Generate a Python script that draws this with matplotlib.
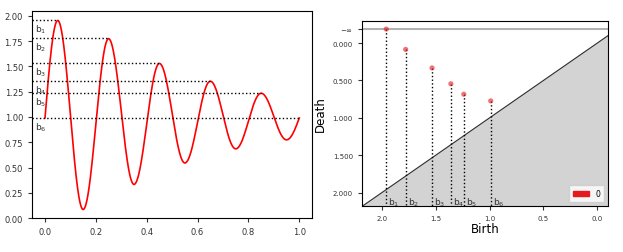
"""
Damped oscillation (left) and its superlevel-set persistence diagram (right).
Output: out.png
"""

import numpy as np
import matplotlib
matplotlib.use("Agg")
import matplotlib.pyplot as plt
import matplotlib.patches as mpatches

# ── Values ────────────────────────────────────────────────────────────────────
# curve extrema (start, peak, trough, peak, ..., end)
curve_x = [0.0, 0.05, 0.15, 0.25, 0.35, 0.45, 0.55, 0.65, 0.75, 0.85, 0.95, 1.0]
curve_y = [0.99, 1.955, 0.085, 1.775, 0.333, 1.53, 0.545, 1.354, 0.685, 1.235, 0.774, 0.99]

# persistence pairs (birth = local max, death = merging min); b1 never dies
births = [1.96, 1.78, 1.535, 1.36, 1.24, 0.99]
deaths = [np.inf, 0.085, 0.333, 0.545, 0.685, 0.774]
bar_x_end = [0.05, 0.25, 0.45, 0.65, 0.85, 1.0]   # where each dotted level meets the curve
labels = [f"b$_{i}$" for i in range(1, 7)]

red = "#e41a1c"
inf_pos = -0.187

fig = plt.figure(figsize=(6.23, 2.53), dpi=100)
ax1 = fig.add_axes([0.0514, 0.133, 0.4494, 0.818])
ax2 = fig.add_axes([0.581, 0.182, 0.395, 0.731])

# ── Left: the signal ──────────────────────────────────────────────────────────
xs, ys = [], []
n = len(curve_x)
for i in range(n - 1):
    x0, x1 = curve_x[i], curve_x[i + 1]
    y0, y1 = curve_y[i], curve_y[i + 1]
    t = np.linspace(0, 1, 60)
    if i == 0:                      # starts mid-swing, rising into first peak
        s = np.sin(np.pi / 2 * t)
    elif i == n - 2:                # ends mid-swing
        s = 1 - np.cos(np.pi / 2 * t)
    else:
        s = (1 - np.cos(np.pi * t)) / 2
    xs.append(x0 + (x1 - x0) * t)
    ys.append(y0 + (y1 - y0) * s)
ax1.plot(np.concatenate(xs), np.concatenate(ys), color="red", lw=1.2)

ax1.set_xlim(-0.051, 1.05)
ax1.set_ylim(-0.003, 2.045)
for b, xe, lab in zip(births, bar_x_end, labels):
    ax1.plot([-0.051, xe], [b, b], color="k", ls=":", lw=1)
    ax1.text(-0.041, b - 0.025, lab, ha="left", va="top", fontsize=6.5, color="#333")
ax1.set_yticks([0, 0.25, 0.5, 0.75, 1.0, 1.25, 1.5, 1.75, 2.0])
ax1.set_yticklabels([f"{v:.2f}" for v in ax1.get_yticks()])
ax1.tick_params(labelsize=6, length=3, colors="#333")

# ── Right: persistence diagram ────────────────────────────────────────────────
xlo, xhi = 2.186, -0.10
ylo, yhi = 2.18, -0.295
diag = np.array([xhi, xlo])
ax2.fill_between(diag, diag, ylo, color="lightgrey", zorder=0)
ax2.plot(diag, diag, color="k", lw=0.8, alpha=0.8)
ax2.axhline(inf_pos, color="k", lw=1.5, alpha=0.3)

d_plot = [inf_pos if np.isinf(d) else d for d in deaths]
ax2.scatter(births, d_plot, s=14, color=red, alpha=0.6, edgecolors="none", zorder=3)
for b, d, lab in zip(births, d_plot, labels):
    ax2.plot([b, b], [d, ylo], color="k", ls=":", lw=1, zorder=2)
    ax2.text(b - 0.02, 2.12, lab, ha="left", va="center", fontsize=6.5, color="#333")

ax2.set_xlim(xlo, xhi)
ax2.set_ylim(ylo, yhi)
ax2.set_xticks([2.0, 1.5, 1.0, 0.5, 0.0])
ax2.set_xticklabels(["2.0", "1.5", "1.0", "0.5", "0.0"])
ax2.set_yticks([inf_pos, 0, 0.5, 1.0, 1.5, 2.0])
ax2.set_yticklabels([r"$-\infty$", "0.000", "0.500", "1.000", "1.500", "2.000"])
ax2.tick_params(labelsize=5, length=3, colors="#333")
ax2.set_xlabel("Birth", fontsize=8.5, labelpad=1)
ax2.set_ylabel("Death", fontsize=8.5)
ax2.legend(handles=[mpatches.Patch(color=red, label="0")], loc="lower right",
           fontsize=5.5, handlelength=2.2, borderpad=0.5, fancybox=False)

fig.savefig("out.png", dpi=100)
